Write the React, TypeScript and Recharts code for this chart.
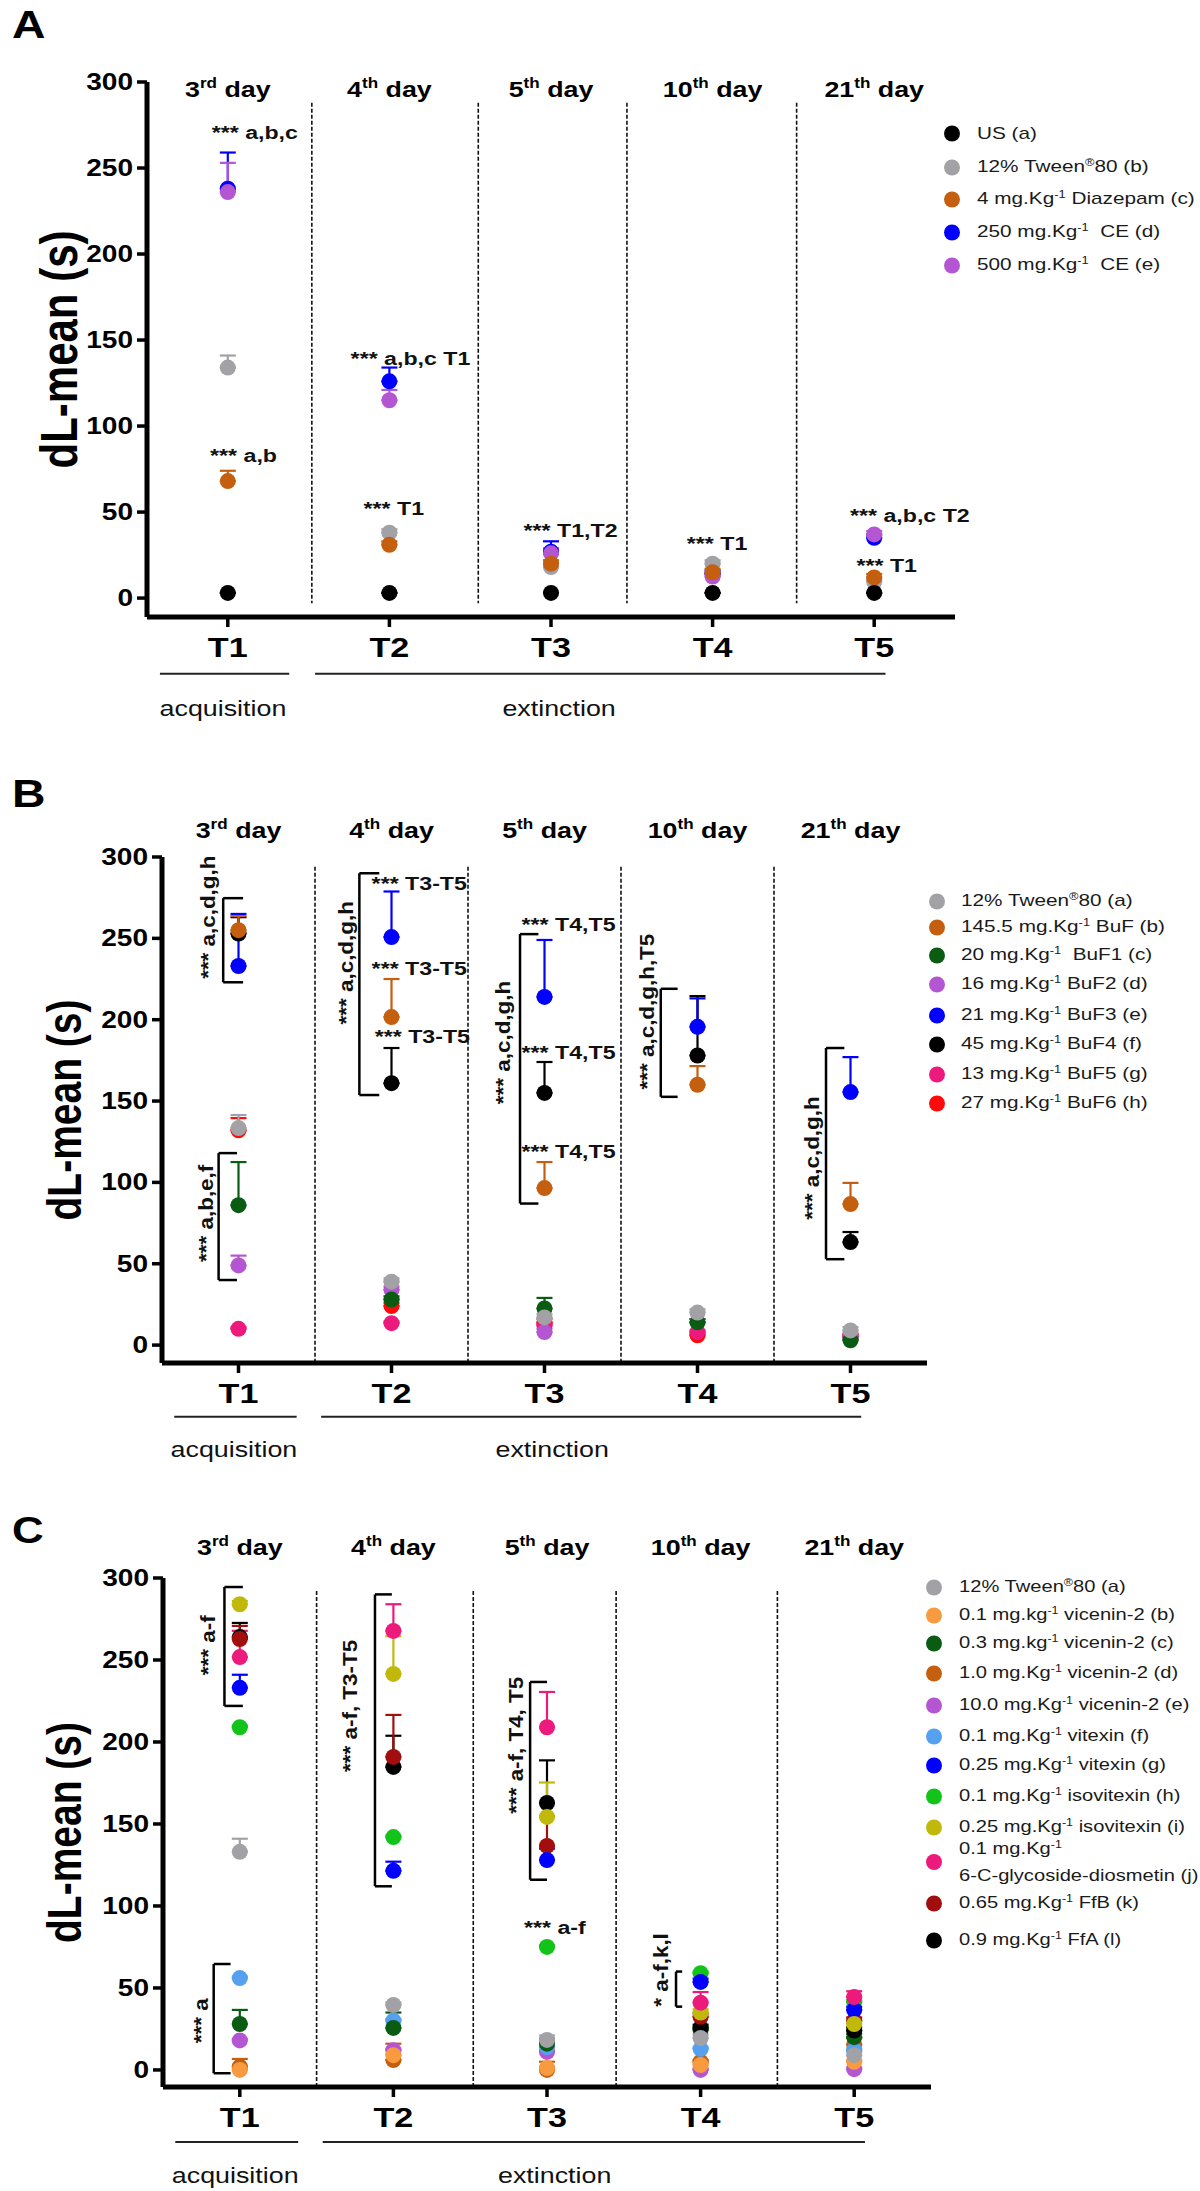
import React from 'react';
import { ScatterChart, Scatter, XAxis, YAxis, ErrorBar, ReferenceLine, ReferenceDot, Legend } from 'recharts';

// ---------- shared categories / ticks ----------
const TRIALS = [1, 2, 3, 4, 5];
const TRIAL_LABELS = ['T1', 'T2', 'T3', 'T4', 'T5'];
const DAY_NUMS = ['3', '4', '5', '10', '21'];
const DAY_SUPS = ['rd', 'th', 'th', 'th', 'th'];
const Y_TICKS = [0, 50, 100, 150, 200, 250, 300];

// ---------- colours ----------
const BLACK = '#000000';
const GRAY = '#a2a2a6';
const BROWN = '#c45f10';
const BLUE = '#0000ff';
const PURPLE = '#b455d2';
const DKGREEN = '#0b5c13';
const PINK = '#ec1a7d';
const RED = '#ff0a0a';
const LTORANGE = '#f89a40';
const LTBLUE = '#56a0f0';
const GREEN = '#12c31a';
const OLIVE = '#c0b90c';
const DKRED = '#a20e0e';

// ---------- Panel A data (T1..T5) ----------
const A_US = [3, 3, 3, 3, 3];
const A_US_SEM = [0, 0, 0, 0, 0];
const A_TWEEN = [134, 38, 18, 20, 9.5];
const A_TWEEN_SEM = [7, 2, 2, 2, 1];
const A_DZP = [68, 31, 20, 15, 12];
const A_DZP_SEM = [6, 2, 2, 2, 2];
const A_CE250 = [238, 126, 27, 14, 35];
const A_CE250_SEM = [21, 8, 6, 2, 2];
const A_CE500 = [236, 115, 26, 12.5, 37];
const A_CE500_SEM = [17, 6, 3, 2, 2];

// ---------- Panel B data ----------
const B_TWEEN = [133.4, 39, 17, 20, 9];
const B_TWEEN_SEM = [8, 2, 2, 2, 2];
const B_BUF = [255, 201.6, 96.5, 160, 86.7];
const B_BUF_SEM = [8.7, 23.4, 16, 11.5, 13];
const B_BUF1 = [86, 28, 22.5, 14, 3];
const B_BUF1_SEM = [26.5, 2, 6.5, 2, 1];
const B_BUF2 = [49, 34, 8, 14, 5];
const B_BUF2_SEM = [6, 2, 2, 2, 2];
const B_BUF3 = [233, 250.8, 214, 195.6, 155.5];
const B_BUF3_SEM = [32, 28, 35, 17.5, 21.5];
const B_BUF4 = [253, 161, 155, 178, 63.3];
const B_BUF4_SEM = [10, 21.6, 19, 36.5, 6.2];
const B_BUF5 = [10, 13.5, 12, 8, 6];
const B_BUF5_SEM = [1, 1, 1, 1, 1];
const B_BUF6 = [132, 24, 14, 6, 5];
const B_BUF6_SEM = [7.5, 2, 2, 1, 1];

// ---------- Panel C data ----------
const C_TWEEN = [133, 39.6, 18.3, 19.5, 9];
const C_TWEEN_SEM = [8, 1.5, 2.7, 2, 2];
const C_VIC01 = [0, 9, 1.2, 3, 5];
const C_VIC01_SEM = [1, 1, 1, 1, 1];
const C_VIC03 = [28, 25.6, 16, 24.4, 20];
const C_VIC03_SEM = [8.6, 9.4, 3, 2, 2];
const C_VIC1 = [2, 6, 0, 5, 15.5];
const C_VIC1_SEM = [4.7, 10, 5, 1, 4];
const C_VIC10 = [18, 12, 11, 0, 0.5];
const C_VIC10_SEM = [1, 1, 1, 1, 1];
const C_VIT01 = [56, 30, 14, 12.8, 12];
const C_VIT01_SEM = [1, 1, 1, 1, 1];
const C_VIT025 = [233, 121.4, 128, 53.7, 36.6];
const C_VIT025_SEM = [8, 5.6, 7, 2, 2];
const C_ISO01 = [209, 142, 75, 59, 41.5];
const C_ISO01_SEM = [1, 1, 1, 1, 1];
const C_ISO025 = [284, 241.5, 154.3, 35, 28];
const C_ISO025_SEM = [2, 23, 21, 2, 2];
const C_DIOS = [251.8, 267.7, 209, 41, 44.5];
const C_DIOS_SEM = [16, 16.3, 21.5, 6.5, 3.5];
const C_FFB = [262.8, 190.9, 136.6, 32.4, 30];
const C_FFB_SEM = [8, 25.6, 18, 2, 2];
const C_FFA = [264, 184.8, 162.8, 25.6, 24];
const C_FFA_SEM = [8.6, 19, 26, 2, 2];

// ---------- series tables (legend order) ----------
const A_SERIES = [
  { name: ['US (a)'], color: BLACK, mean: A_US, sem: A_US_SEM },
  { name: ['12% Tween', '®', '80 (b)'], color: GRAY, mean: A_TWEEN, sem: A_TWEEN_SEM },
  { name: ['4 mg.Kg', '-1', ' Diazepam (c)'], color: BROWN, mean: A_DZP, sem: A_DZP_SEM },
  { name: ['250 mg.Kg', '-1', '  CE (d)'], color: BLUE, mean: A_CE250, sem: A_CE250_SEM },
  { name: ['500 mg.Kg', '-1', '  CE (e)'], color: PURPLE, mean: A_CE500, sem: A_CE500_SEM },
];
const A_ORDER = [3, 4, 1, 2, 0];

const B_SERIES = [
  { name: ['12% Tween', '®', '80 (a)'], color: GRAY, mean: B_TWEEN, sem: B_TWEEN_SEM },
  { name: ['145.5 mg.Kg', '-1', ' BuF (b)'], color: BROWN, mean: B_BUF, sem: B_BUF_SEM },
  { name: ['20 mg.Kg', '-1', '  BuF1 (c)'], color: DKGREEN, mean: B_BUF1, sem: B_BUF1_SEM },
  { name: ['16 mg.Kg', '-1', ' BuF2 (d)'], color: PURPLE, mean: B_BUF2, sem: B_BUF2_SEM },
  { name: ['21 mg.Kg', '-1', ' BuF3 (e)'], color: BLUE, mean: B_BUF3, sem: B_BUF3_SEM },
  { name: ['45 mg.Kg', '-1', ' BuF4 (f)'], color: BLACK, mean: B_BUF4, sem: B_BUF4_SEM },
  { name: ['13 mg.Kg', '-1', ' BuF5 (g)'], color: PINK, mean: B_BUF5, sem: B_BUF5_SEM },
  { name: ['27 mg.Kg', '-1', ' BuF6 (h)'], color: RED, mean: B_BUF6, sem: B_BUF6_SEM },
];
const B_ORDER = [7, 6, 3, 2, 0, 5, 4, 1];

const C_SERIES = [
  { name: ['12% Tween', '®', '80 (a)'], color: GRAY, mean: C_TWEEN, sem: C_TWEEN_SEM },
  { name: ['0.1 mg.kg', '-1', ' vicenin-2 (b)'], color: LTORANGE, mean: C_VIC01, sem: C_VIC01_SEM },
  { name: ['0.3 mg.kg', '-1', ' vicenin-2 (c)'], color: DKGREEN, mean: C_VIC03, sem: C_VIC03_SEM },
  { name: ['1.0 mg.Kg', '-1', ' vicenin-2 (d)'], color: BROWN, mean: C_VIC1, sem: C_VIC1_SEM },
  { name: ['10.0 mg.Kg', '-1', ' vicenin-2 (e)'], color: PURPLE, mean: C_VIC10, sem: C_VIC10_SEM },
  { name: ['0.1 mg.Kg', '-1', ' vitexin (f)'], color: LTBLUE, mean: C_VIT01, sem: C_VIT01_SEM },
  { name: ['0.25 mg.Kg', '-1', ' vitexin (g)'], color: BLUE, mean: C_VIT025, sem: C_VIT025_SEM },
  { name: ['0.1 mg.Kg', '-1', ' isovitexin (h)'], color: GREEN, mean: C_ISO01, sem: C_ISO01_SEM },
  { name: ['0.25 mg.Kg', '-1', ' isovitexin (i)'], color: OLIVE, mean: C_ISO025, sem: C_ISO025_SEM },
  { name: ['0.1 mg.Kg', '-1', '\n6-C-glycoside-diosmetin (j)'], color: PINK, mean: C_DIOS, sem: C_DIOS_SEM },
  { name: ['0.65 mg.Kg', '-1', ' FfB (k)'], color: DKRED, mean: C_FFB, sem: C_FFB_SEM },
  { name: ['0.9 mg.Kg', '-1', ' FfA (l)'], color: BLACK, mean: C_FFA, sem: C_FFA_SEM },
];
const C_ORDER = [4, 3, 1, 5, 2, 11, 0, 10, 7, 6, 8, 9];

// ---------- significance annotations (data units) ----------
const A_NOTES = [
  { x: 0.9, y: 271, text: '*** a,b,c' },
  { x: 0.89, y: 83, text: '*** a,b' },
  { x: 1.76, y: 139.5, text: '*** a,b,c T1' },
  { x: 1.84, y: 52, text: '*** T1' },
  { x: 2.83, y: 39.5, text: '*** T1,T2' },
  { x: 3.84, y: 32, text: '*** T1' },
  { x: 4.85, y: 48, text: '*** a,b,c T2' },
  { x: 4.89, y: 19, text: '*** T1' },
];
const B_NOTES = [
  { x: 1.87, y: 284, text: '*** T3-T5' },
  { x: 1.87, y: 231.7, text: '*** T3-T5' },
  { x: 1.89, y: 190, text: '*** T3-T5' },
  { x: 2.85, y: 258.8, text: '*** T4,T5' },
  { x: 2.85, y: 180, text: '*** T4,T5' },
  { x: 2.85, y: 119, text: '*** T4,T5' },
];
const B_VNOTES = [
  { x: 0.8, y: 263, text: '*** a,c,d,g,h' },
  { x: 0.79, y: 81, text: '*** a,b,e,f' },
  { x: 1.7, y: 235, text: '*** a,c,d,g,h' },
  { x: 2.73, y: 186, text: '*** a,c,d,g,h' },
  { x: 3.67, y: 205, text: '*** a,c,d,g,h,T5' },
  { x: 4.75, y: 115, text: '*** a,c,d,g,h' },
];
const B_BRACKETS = [
  { x: 0.9, x2: 1.03, y1: 274.7, y2: 223 },
  { x: 0.87, x2: 0.99, y1: 118, y2: 40 },
  { x: 1.79, x2: 1.92, y1: 290, y2: 153.7 },
  { x: 2.84, x2: 2.96, y1: 252.6, y2: 87 },
  { x: 3.76, x2: 3.87, y1: 219, y2: 152.6 },
  { x: 4.84, x2: 4.96, y1: 182.6, y2: 52.8 },
];
const C_NOTES = [{ x: 2.85, y: 87, text: '*** a-f' }];
const C_VNOTES = [
  { x: 0.79, y: 259, text: '*** a-f' },
  { x: 0.75, y: 30, text: '*** a' },
  { x: 1.72, y: 222, text: '*** a-f, T3-T5' },
  { x: 2.8, y: 198, text: '*** a-f, T4, T5' },
  { x: 3.74, y: 61, text: '* a-f,k,l' },
];
const C_BRACKETS = [
  { x: 0.9, x2: 1.02, y1: 294.5, y2: 222 },
  { x: 0.83, x2: 0.94, y1: 64.6, y2: -2 },
  { x: 1.88, x2: 1.99, y1: 290, y2: 112 },
  { x: 2.89, x2: 3.0, y1: 236.6, y2: 116 },
  { x: 3.84, x2: 3.88, y1: 60, y2: 38.6 },
];

// phase labels under the x axis
const PHASES = [
  { text: 'acquisition', from: 0.58, to: 1.38, mid: 0.97 },
  { text: 'extinction', from: 1.54, to: 5.07, mid: 3.05 },
];

// ---------- layout ----------
const STRETCH = 1.22; // the source figure's text is horizontally widened
const NOTE_FONT = 19;
const VNOTE_FONT = 19.5;
const PANELS = [
  {
    letter: 'A', series: A_SERIES, order: A_ORDER, notes: A_NOTES, vnotes: [], brackets: [],
    top: 0, height: 745, plotLeft: 147, plotRight: 955, plotTop: 82, plotBottom: 617, yMin: -11,
    seps: [1.52, 2.55, 3.47, 4.52], sepTop: 288, sepBottom: -3, dayDy: 15, yLabelSize: 42, yLabelX: 60,
    legendX: 952, textGap: 25, legendRows: [133, 167, 199, 232, 265], legendFont: 17, letterTop: 6, letterSize: 38,
  },
  {
    letter: 'B', series: B_SERIES, order: B_ORDER, notes: B_NOTES, vnotes: B_VNOTES, brackets: B_BRACKETS,
    top: 745, height: 730, plotLeft: 162, plotRight: 927, plotTop: 112, plotBottom: 618, yMin: -11,
    seps: [1.5, 2.5, 3.5, 4.5], sepTop: 294, sepBottom: -11, dayDy: -19, yLabelSize: 39, yLabelX: 65,
    legendX: 937, textGap: 24, legendRows: [156, 182, 210, 239, 270, 299, 329, 358], legendFont: 17, letterTop: 775, letterSize: 38,
  },
  {
    letter: 'C', series: C_SERIES, order: C_ORDER, notes: C_NOTES, vnotes: C_VNOTES, brackets: C_BRACKETS,
    top: 1475, height: 716, plotLeft: 163, plotRight: 931, plotTop: 103, plotBottom: 612, yMin: -10.4,
    seps: [1.5, 2.52, 3.45, 4.5], sepTop: 292, sepBottom: -10.4, dayDy: -23, yLabelSize: 39, yLabelX: 65,
    legendX: 934, textGap: 25, legendRows: [112, 140, 168, 198, 230, 261, 290, 321, 352, 387, 428, 465], legendFont: 16.5, letterTop: 1513, letterSize: 36,
  },
];

const Y_AXIS_W = 60;
const X_AXIS_H = 40;
const DOT_R = 8;

// text widened horizontally around its anchor point
function WideText({ x, y, rotate, children, ...rest }: any) {
  return (
    <g transform={`translate(${x},${y}) scale(${STRETCH},1)${rotate ? ' rotate(-90)' : ''}`}>
      <text x={0} y={0} {...rest}>{children}</text>
    </g>
  );
}

const renderName = (parts: string[], key: string) =>
  parts.map((p, i) =>
    i % 2 === 1 ? (
      <span key={key + i} style={{ fontSize: '0.62em', position: 'relative', top: '-0.6em' }}>{p}</span>
    ) : (
      <span key={key + i}>{p}</span>
    )
  );

function Panel({ cfg }: { cfg: any }) {
  const margin = {
    top: cfg.plotTop,
    bottom: cfg.height - cfg.plotBottom - X_AXIS_H,
    left: cfg.plotLeft - Y_AXIS_W,
    right: 1200 - cfg.plotRight,
  };

  const TrialTick = (p: any) => (
    <WideText x={p.x} y={p.y + 29.5} textAnchor="middle" fontSize={28} fontWeight={700} fill="#000">
      {TRIAL_LABELS[TRIALS.indexOf(p.payload.value)]}
    </WideText>
  );

  const YTick = (p: any) => (
    <WideText x={p.x} y={p.y} textAnchor="end" dominantBaseline="central" fontSize={23} fontWeight={700} fill="#000">
      {p.payload.value}
    </WideText>
  );

  const YLabel = (p: any) => {
    const vb = p.viewBox;
    const cy = vb.y + vb.height / 2;
    return (
      <WideText x={cfg.yLabelX} y={cy} rotate textAnchor="middle" dominantBaseline="central"
        fontSize={cfg.yLabelSize} fontWeight={700} fill="#000">dL-mean (s)</WideText>
    );
  };

  const legendContent = () => (
    <div style={{ position: 'relative', width: 1200 - cfg.legendX + 8, height: 1 }}>
      {cfg.series.map((s: any, i: number) => (
        <div key={i} style={{ position: 'absolute', left: 0, top: cfg.legendRows[i], transform: 'translateY(-50%)', display: 'flex', alignItems: 'center' }}>
          <span style={{ display: 'inline-block', width: 16, height: 16, borderRadius: 8, background: s.color, marginRight: cfg.textGap - 8, flex: 'none' }} />
          <span style={{ display: 'inline-block', fontSize: cfg.legendFont, color: '#1a1a1a', whiteSpace: 'pre', lineHeight: '25px',
            transform: `scaleX(${STRETCH})`, transformOrigin: 'left center' }}>{renderName(s.name, 'n' + i)}</span>
        </div>
      ))}
    </div>
  );

  return (
    <div style={{ position: 'absolute', left: 0, top: cfg.top, width: 1200, height: cfg.height }}>
      <ScatterChart width={1200} height={cfg.height} margin={margin}>
        <XAxis xAxisId="b" type="number" dataKey="x" domain={[0.5, 5.5]} ticks={TRIALS} interval={0} height={X_AXIS_H}
          tickSize={10} tickMargin={0} axisLine={{ stroke: '#000', strokeWidth: 5 }} tickLine={{ stroke: '#000', strokeWidth: 3.5 }}
          tick={<TrialTick />} allowDecimals />
        <YAxis type="number" dataKey="y" domain={[cfg.yMin, 300]} ticks={Y_TICKS} interval={0} width={Y_AXIS_W}
          tickSize={10} tickMargin={4} axisLine={{ stroke: '#000', strokeWidth: 5 }} tickLine={{ stroke: '#000', strokeWidth: 3.5 }}
          tick={<YTick />} label={{ content: YLabel }} />
        <Legend layout="vertical" align="center" verticalAlign="middle"
          wrapperStyle={{ left: cfg.legendX - 8, top: 0 }} content={legendContent} />

        {cfg.seps.map((s: number, i: number) => (
          <ReferenceLine key={'sep' + i} xAxisId="b" ifOverflow="visible"
            segment={[{ x: s, y: cfg.sepTop }, { x: s, y: cfg.sepBottom }]}
            stroke="#111" strokeWidth={1.6} strokeDasharray="4 2" />
        ))}

        {TRIALS.map((t, i) => (
          <ReferenceDot key={'day' + i} xAxisId="b" x={t} y={300} r={0} ifOverflow="visible"
            shape={(p: any) => (
              <WideText x={p.cx} y={p.cy + cfg.dayDy} textAnchor="middle" fontSize={22} fontWeight={700} fill="#000">
                {DAY_NUMS[i]}
                <tspan fontSize={14} dy={-9}>{DAY_SUPS[i]}</tspan>
                <tspan dy={9}> day</tspan>
              </WideText>
            )} />
        ))}

        {PHASES.map((ph, i) => (
          <ReferenceLine key={'ph' + i} xAxisId="b" ifOverflow="visible"
            segment={[{ x: ph.from, y: -44 }, { x: ph.to, y: -44 }]} stroke="#222" strokeWidth={2} />
        ))}
        {PHASES.map((ph, i) => (
          <ReferenceDot key={'pht' + i} xAxisId="b" x={ph.mid} y={-64} r={0} ifOverflow="visible"
            shape={(p: any) => (
              <WideText x={p.cx} y={p.cy} textAnchor="middle" dominantBaseline="central" fontSize={22} fill="#111">{ph.text}</WideText>
            )} />
        ))}

        {cfg.brackets.map((b: any, i: number) => (
          <ReferenceLine key={'bv' + i} xAxisId="b" ifOverflow="visible"
            segment={[{ x: b.x, y: b.y1 }, { x: b.x, y: b.y2 }]} stroke="#000" strokeWidth={2.5} />
        ))}
        {cfg.brackets.map((b: any, i: number) => (
          <ReferenceLine key={'bt' + i} xAxisId="b" ifOverflow="visible"
            segment={[{ x: b.x, y: b.y1 }, { x: b.x2, y: b.y1 }]} stroke="#000" strokeWidth={2.5} />
        ))}
        {cfg.brackets.map((b: any, i: number) => (
          <ReferenceLine key={'bb' + i} xAxisId="b" ifOverflow="visible"
            segment={[{ x: b.x, y: b.y2 }, { x: b.x2, y: b.y2 }]} stroke="#000" strokeWidth={2.5} />
        ))}

        {cfg.order.map((si: number) => {
          const s = cfg.series[si];
          const data = TRIALS.map((t, k) => ({ x: t, y: s.mean[k], err: [0, s.sem[k]] }));
          return (
            <Scatter key={'s' + si} xAxisId="b" data={data} fill={s.color} isAnimationActive={false}
              shape={(p: any) => <circle cx={p.cx} cy={p.cy} r={DOT_R} fill={s.color} />}>
              <ErrorBar dataKey="err" direction="y" width={8} stroke={s.color} strokeWidth={2.2} isAnimationActive={false} />
            </Scatter>
          );
        })}

        {cfg.notes.map((n: any, i: number) => (
          <ReferenceDot key={'n' + i} xAxisId="b" x={n.x} y={n.y} r={0} ifOverflow="visible"
            shape={(p: any) => (
              <WideText x={p.cx} y={p.cy} textAnchor="start" dominantBaseline="central" fontSize={NOTE_FONT} fontWeight={700} fill="#111">{n.text}</WideText>
            )} />
        ))}
        {cfg.vnotes.map((n: any, i: number) => (
          <ReferenceDot key={'v' + i} xAxisId="b" x={n.x} y={n.y} r={0} ifOverflow="visible"
            shape={(p: any) => (
              <g transform={`translate(${p.cx},${p.cy}) rotate(-90) scale(1.15,1)`}>
                <text x={0} y={0} textAnchor="middle" dominantBaseline="central" fontSize={VNOTE_FONT} fontWeight={700} fill="#111">{n.text}</text>
              </g>
            )} />
        ))}
      </ScatterChart>
    </div>
  );
}

export default function App() {
  return (
    <div style={{ position: 'absolute', left: 0, top: 0, width: 1200, height: 2191, background: '#fff', overflow: 'hidden',
      fontFamily: '"Liberation Sans", Arial, Helvetica, sans-serif' }}>
      {PANELS.map((cfg) => (
        <div key={cfg.letter}>
          <Panel cfg={cfg} />
          <div style={{ position: 'absolute', left: 12, top: cfg.letterTop, fontSize: cfg.letterSize, fontWeight: 700, lineHeight: 1, color: '#000',
            transform: `scaleX(${STRETCH})`, transformOrigin: 'left top' }}>
            {cfg.letter}
          </div>
        </div>
      ))}
    </div>
  );
}
